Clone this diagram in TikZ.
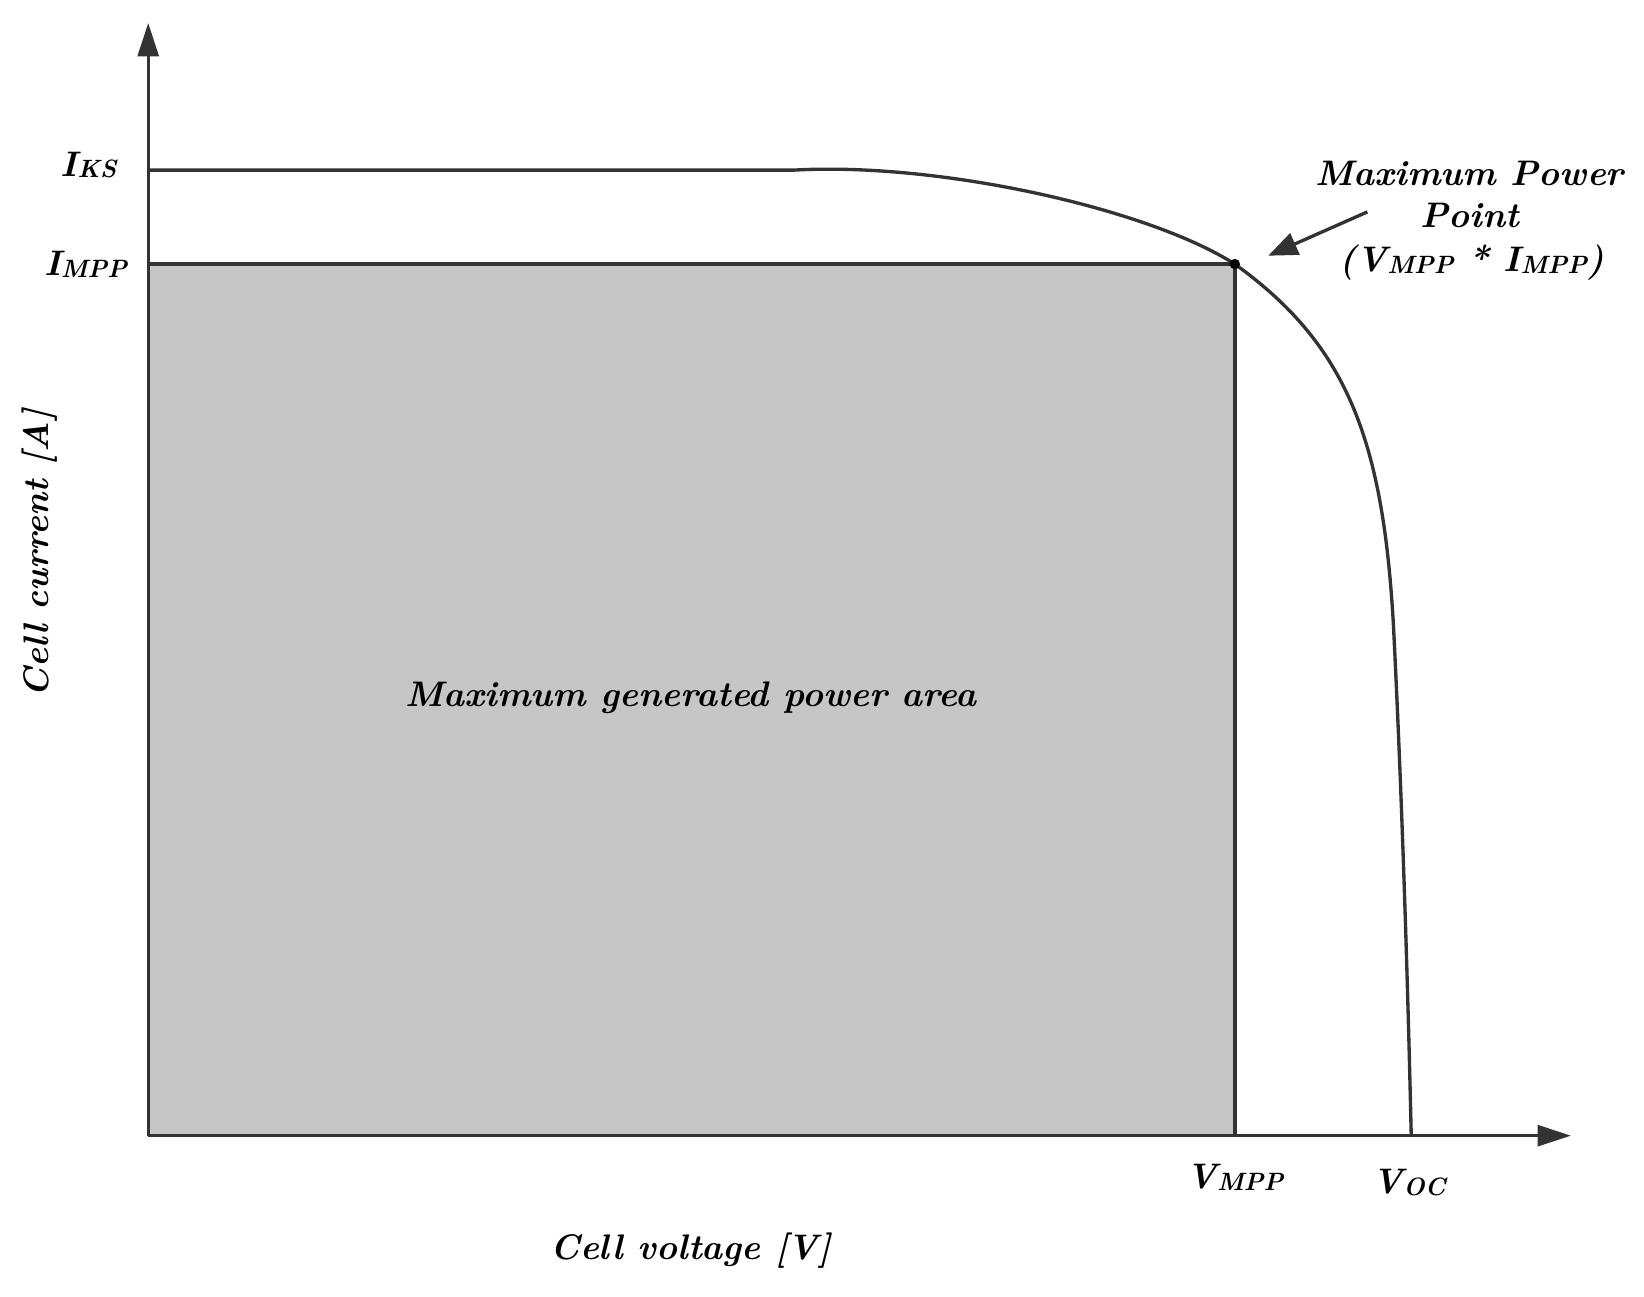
\documentclass[tikz,border=0pt]{standalone}
\usetikzlibrary{arrows.meta}
\begin{document}
\begin{tikzpicture}[x=0.5pt,y=-0.5pt,
  lbl/.style={font=\fontsize{17}{20}\selectfont\bfseries\itshape, inner sep=1pt},
  ln/.style={line width=1.6pt, draw=black!80},
  ax/.style={ln,-{Triangle[length=16pt,width=10pt]}}]
\useasboundingbox (0,0) rectangle (1575,1242);
\fill[gray!45] (142,253) rectangle (1183,1088);
\coordinate (O) at (142,1088);
\coordinate (ytip) at (142,22);
\coordinate (xtip) at (1505,1088);
\coordinate (ik) at (142,163);
\coordinate (im) at (142,253);
\coordinate (mpp) at (1183,253);
\coordinate (vm) at (1183,1088);
\coordinate (voc) at (1352,1088);
\draw[ax] (O) -- (ytip);
\draw[ax] (O) -- (xtip);
\draw[ln] (im) -- (mpp) -- (vm);
\draw[ln] (ik) -- (760,163) .. controls (900,155) and (1100,200) .. (mpp)
  .. controls (1290,330) and (1325,420) .. (1335,600)
  .. controls (1345,800) and (1350,1000) .. (voc);
\fill (mpp) circle (5);
\node[lbl] (lik) at (85,158) {I\raisebox{-0.1ex}{\fontsize{12}{14}\selectfont KS}};
\node[lbl] (lim) at (82,253) {I\raisebox{-0.1ex}{\fontsize{12}{14}\selectfont MPP}};
\node[lbl] (lvm) at (1183,1128) {V\raisebox{-0.1ex}{\fontsize{12}{14}\selectfont MPP}};
\node[lbl] (lvo) at (1350,1133) {V\raisebox{-0.1ex}{\fontsize{12}{14}\selectfont OC}};
\node[lbl] (xl) at (662,1198) {Cell voltage [V]};
\node[lbl,rotate=90] (yl) at (38,530) {Cell current [A]};
\node[lbl] (area) at (662,668) {Maximum generated power area};
\node[lbl,align=center] (mp) at (1408,186) {Maximum Power\\Point};
\node[lbl] (mp2) at (1410,252) {(V\raisebox{-0.1ex}{\fontsize{12}{14}\selectfont MPP} * I\raisebox{-0.1ex}{\fontsize{12}{14}\selectfont MPP})};
\coordinate (as) at (1310,203);
\coordinate (ae) at (1215,245);
\draw[ln,-{Triangle[length=14pt,width=11pt]}] (as) -- (ae);
\end{tikzpicture}
\end{document}
